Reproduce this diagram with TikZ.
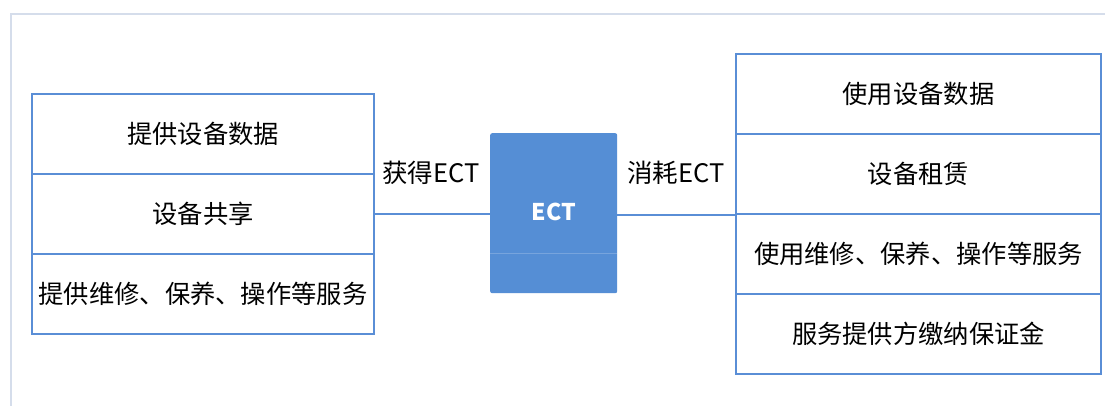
\documentclass[tikz,border=0pt]{standalone}
\usepackage{fontspec}
\setmainfont{Noto Sans CJK SC}
\begin{document}
\begin{tikzpicture}[x=1pt,y=-1pt,
  cell/.style={draw=boxblue,line width=2pt,minimum width=#1,anchor=north west,inner sep=0pt,font=\fontsize{25.3}{29}\selectfont},
  cellL/.style={cell=342pt,minimum height=80pt},
  cellR/.style={cell=365pt,minimum height=80pt},
  conn/.style={draw=boxblue,line width=1.6pt},
  lbl/.style={font=\fontsize{25.5}{29}\selectfont,text=black}]
\definecolor{boxblue}{HTML}{5A8ED6}
\definecolor{ectblue}{HTML}{558ED5}
\definecolor{framegray}{HTML}{D5DDEB}
\useasboundingbox (0,0) rectangle (1105,406);
\fill[white] (0,0) rectangle (1105,406);
\draw[framegray,line width=1.5pt] (11,406) -- (11,14) -- (1105,14);
% left column
\node[cellL] (l1) at (31,93) {提供设备数据};
\node[cellL] (l2) at (31,173) {设备共享};
\node[cellL] (l3) at (31,253) {提供维修、保养、操作等服务};
% right column
\node[cellR] (r1) at (735,53) {使用设备数据};
\node[cellR] (r2) at (735,133) {设备租赁};
\node[cellR] (r3) at (735,213) {使用维修、保养、操作等服务};
\node[cellR] (r4) at (735,293) {服务提供方缴纳保证金};
% center
\node[fill=ectblue,rounded corners=2pt,minimum width=127pt,minimum height=160pt,anchor=north west,inner sep=0pt] (ect) at (490,133) {};
\draw[white,opacity=0.2,line width=0.6pt] (490,253) -- (617,253);
\node[text=white,font=\fontsize{23}{27}\selectfont\bfseries] (ectl) at (554,212) {ECT};
% connectors
\draw[conn] (l2.east) -- (ect.west |- l2.east);
\draw[conn] (ect.east |- r2.south west) -- (r2.south west);
\node[lbl] (get) at (431,173) {获得ECT};
\node[lbl] (use) at (676,173) {消耗ECT};
\end{tikzpicture}
\end{document}
